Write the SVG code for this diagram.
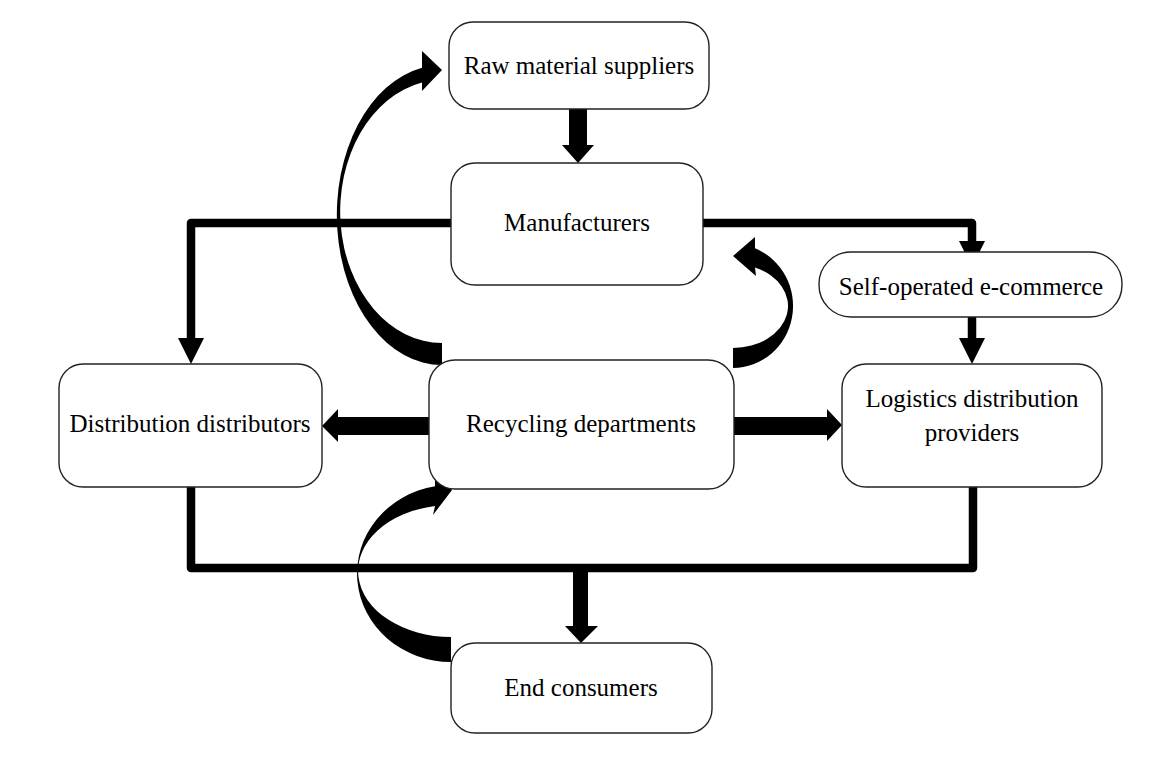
<svg xmlns="http://www.w3.org/2000/svg" width="1170" height="759" viewBox="0 0 1170 759">
<style>
.box{fill:#fff;stroke:#222;stroke-width:1.4}
.t{font-family:"Liberation Serif","Times New Roman",serif;font-size:25px;fill:#000;text-anchor:middle}
.ln{fill:none;stroke:#000;stroke-width:8.5;stroke-linecap:round;stroke-linejoin:round}
.f{fill:#000;stroke:none}
</style>
<rect width="1170" height="759" fill="#fff"/>
<g id="connectors">
<rect class="f" x="569" y="108" width="18" height="38"/>
<polygon class="f" points="562,145 594,145 578,163"/>
<polyline class="ln" points="451,223 191,223 191,340"/>
<polygon class="f" points="178,338 204,338 191,364"/>
<polyline class="ln" points="703,223 972,223 972,243"/>
<polygon class="f" points="959,241 985,241 972,267"/>
<polyline class="ln" points="972,318 972,340"/>
<polygon class="f" points="959,338 985,338 972,364"/>
<rect class="f" x="336" y="417" width="94" height="18"/>
<polygon class="f" points="338,409 338,442 322,426"/>
<rect class="f" x="734" y="417" width="94" height="18"/>
<polygon class="f" points="827,409 827,441 842,425"/>
<polyline class="ln" points="191,487 191,568 973,568 973,487"/>
<rect class="f" x="573" y="568" width="15" height="59"/>
<polygon class="f" points="565,626 598,626 581,643"/>
<path class="f" d="M442,70 L422,51 L422,67.7 A105,150 0 0 0 442,365 L442,343 A102,131.5 0 0 1 422,82.6 L422,91 Z"/>
<path class="f" d="M733,256 L755,237 L755,248.3 A60,62 0 0 1 733,368 L733,348 A55,42 0 0 0 755,267.5 L756,276 Z"/>
<path class="f" d="M452,490 L435,472 L435,486.3 A94,88.5 0 0 0 451,662 L451,637 A93,66 0 0 1 435,506 L433,515 Z"/>
</g>
<g id="raw"><rect class="box" x="449" y="22" width="260" height="87" rx="24"/><text class="t" x="579" y="74">Raw material suppliers</text></g>
<g id="manufacturers"><rect class="box" x="451" y="163" width="252" height="122" rx="24"/><text class="t" x="577" y="231">Manufacturers</text></g>
<g id="selfop"><rect class="box" x="819" y="252" width="303" height="65" rx="32"/><text class="t" x="971" y="295">Self-operated e-commerce</text></g>
<g id="logistics"><rect class="box" x="842" y="364" width="260" height="123" rx="24"/><text class="t" x="972" y="407">Logistics distribution</text><text class="t" x="972" y="441">providers</text></g>
<g id="distribution"><rect class="box" x="59" y="364" width="263" height="123" rx="24"/><text class="t" x="190" y="432">Distribution distributors</text></g>
<g id="recycling"><rect class="box" x="429" y="360" width="305" height="129" rx="26"/><text class="t" x="581" y="432">Recycling departments</text></g>
<g id="endconsumers"><rect class="box" x="451" y="643" width="261" height="90" rx="24"/><text class="t" x="581" y="696">End consumers</text></g>
</svg>
